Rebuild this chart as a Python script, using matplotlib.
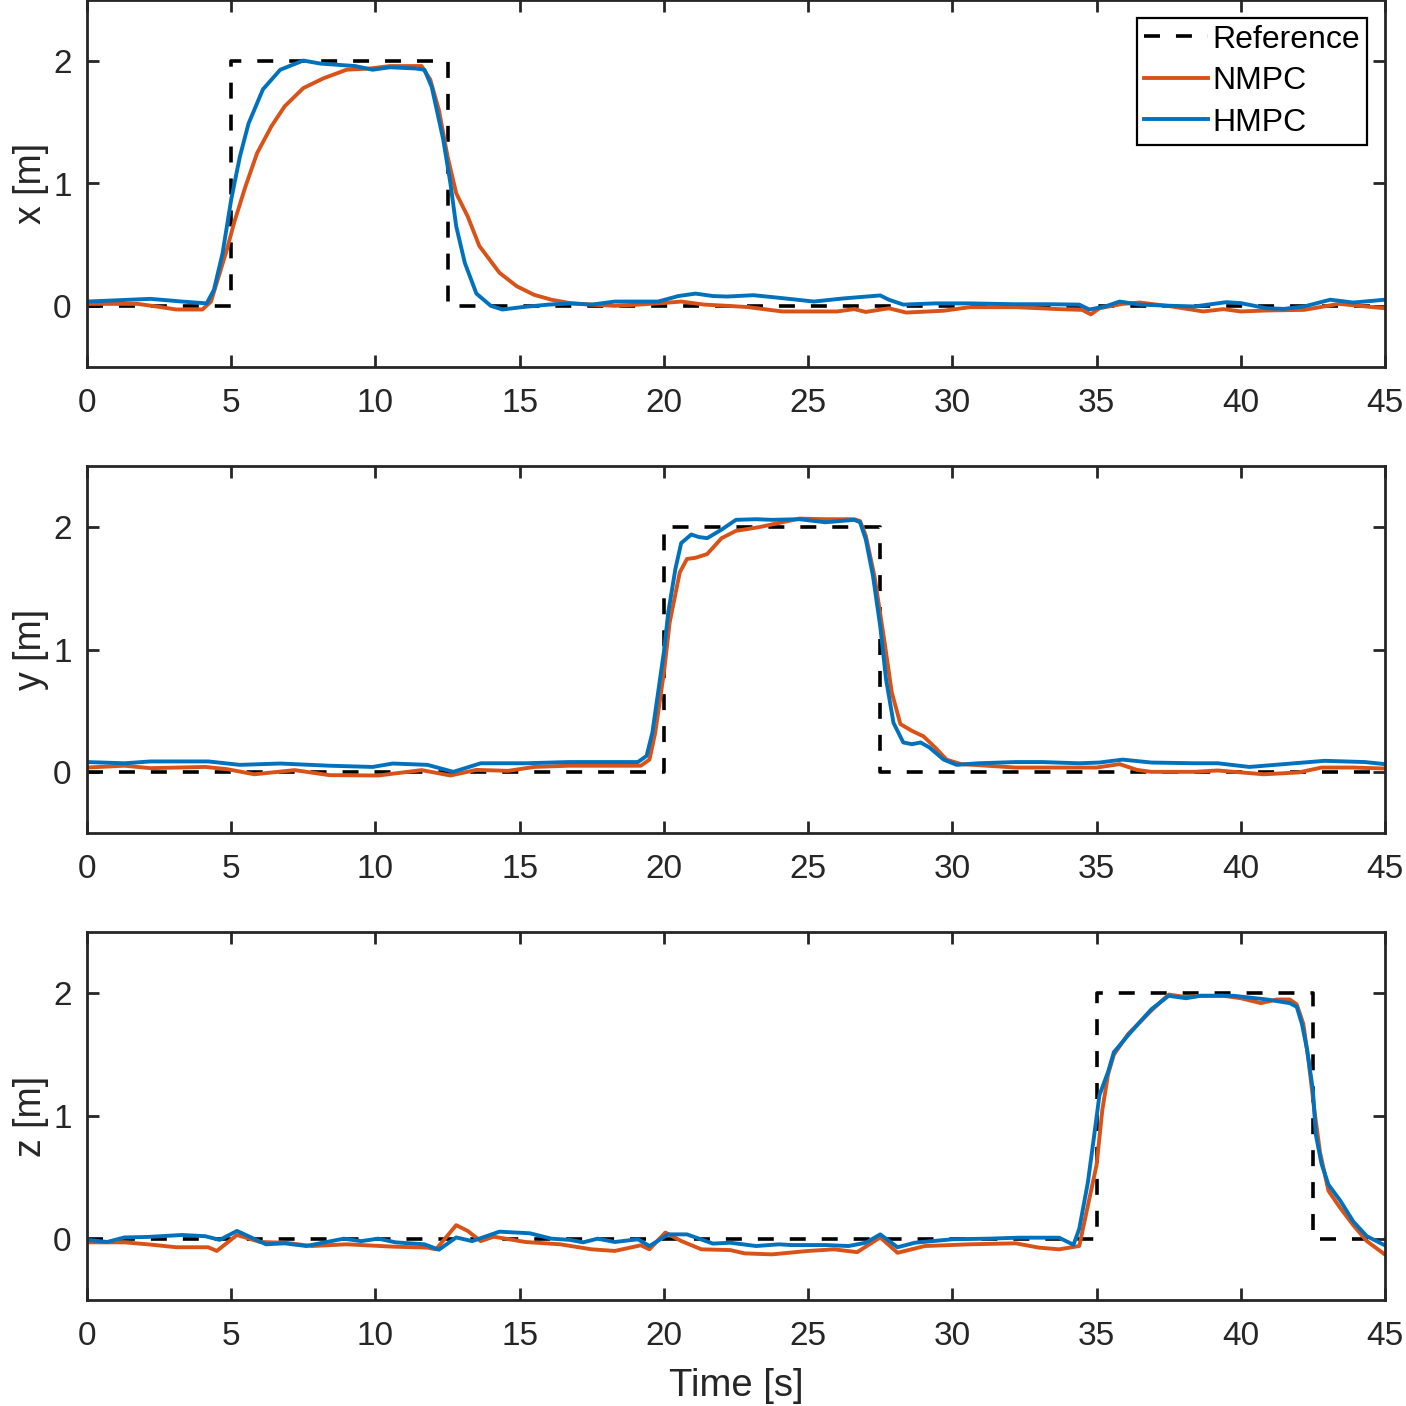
import numpy as np
import matplotlib
matplotlib.use("Agg")
import matplotlib.pyplot as plt

plt.rcParams['font.family'] = ['Liberation Sans', 'DejaVu Sans']
plt.rcParams['lines.scale_dashes'] = False

# ---------------- data ----------------
# Reference steps
ref_x_t = [0, 5, 5, 12.5, 12.5, 45]
ref_x_v = [0, 0, 2, 2, 0, 0]
ref_y_t = [0, 20, 20, 27.5, 27.5, 45]
ref_y_v = [0, 0, 2, 2, 0, 0]
ref_z_t = [0, 35, 35, 42.5, 42.5, 45]
ref_z_v = [0, 0, 2, 2, 0, 0]

# x position
hmpc_x_t = [0, 2.2, 3.3, 4.15, 4.4, 4.7, 5.0, 5.3, 5.6, 6.1,
            6.7, 7.5, 8.1, 8.7, 9.3, 9.9, 10.5, 11.4, 11.7, 11.95,
            12.1, 12.35, 12.6, 12.8, 13.1, 13.5, 14.0, 14.4, 15.1, 16.0,
            16.8, 17.5, 18.3, 19.8, 20.5, 21.1, 21.7, 22.2, 23.1, 24.1,
            25.2, 26.2, 27.5, 27.8, 28.3, 29.4, 30.6, 32.2, 33.4, 34.4,
            34.75, 35.3, 35.8, 36.5, 37.6, 38.4, 39.5, 40.0, 40.9, 41.5,
            42.2, 43.1, 43.9, 45]
hmpc_x_v = [0.035, 0.057, 0.035, 0.02, 0.13, 0.43, 0.87, 1.22, 1.49, 1.77,
            1.93, 2.005, 1.98, 1.97, 1.96, 1.93, 1.95, 1.94, 1.93, 1.79,
            1.63, 1.36, 1.0, 0.65, 0.35, 0.10, 0.0, -0.03, -0.01, 0.01,
            0.02, 0.01, 0.035, 0.035, 0.08, 0.10, 0.08, 0.076, 0.087, 0.063,
            0.035, 0.06, 0.085, 0.05, 0.01, 0.02, 0.02, 0.013, 0.013, 0.01,
            -0.03, -0.005, 0.035, 0.01, 0.0, -0.005, 0.03, 0.022, -0.02, -0.025,
            -0.005, 0.05, 0.027, 0.05]
nmpc_x_t = [0, 1.75, 2.4, 3.1, 4.0, 4.3, 4.5, 4.85, 5.1, 5.5,
            5.9, 6.4, 6.85, 7.5, 8.2, 9.0, 9.8, 10.5, 11.6, 11.9,
            12.2, 12.5, 12.8, 13.2, 13.6, 14.3, 14.9, 15.5, 16.1, 16.8,
            17.5, 18.3, 19.1, 19.8, 20.6, 21.4, 22.2, 22.9, 24.1, 26.0,
            26.6, 27.0, 27.8, 28.4, 29.7, 30.6, 32.2, 33.7, 34.5, 34.8,
            35.1, 35.9, 36.5, 37.6, 38.7, 39.4, 40.0, 40.9, 42.2, 43.4,
            45]
nmpc_x_v = [0.016, 0.016, -0.005, -0.03, -0.03, 0.035, 0.19, 0.46, 0.68, 0.98,
            1.25, 1.47, 1.63, 1.78, 1.86, 1.93, 1.94, 1.96, 1.96, 1.85,
            1.6, 1.22, 0.92, 0.73, 0.49, 0.27, 0.16, 0.09, 0.05, 0.02,
            0.01, 0.0, 0.01, 0.02, 0.035, 0.01, 0.0, -0.01, -0.046, -0.046,
            -0.027, -0.05, -0.02, -0.055, -0.04, -0.011, -0.011, -0.027, -0.033, -0.07,
            -0.02, 0.016, 0.027, -0.005, -0.046, -0.027, -0.046, -0.038, -0.033, 0.016,
            -0.02]

# y position
hmpc_y_t = [0, 1.3, 2.2, 4.2, 5.3, 6.7, 8.4, 9.9, 10.6, 11.8,
            12.7, 13.65, 15.2, 16.7, 19.1, 19.4, 19.6, 19.8, 20.0, 20.15,
            20.4, 20.6, 20.95, 21.2, 21.5, 22.0, 22.5, 23.2, 23.75, 24.7,
            25.6, 26.6, 26.8, 27.0, 27.25, 27.5, 27.7, 27.96, 28.3, 28.6,
            28.9, 29.2, 29.7, 30.15, 30.9, 32.2, 33.1, 34.4, 35.1, 35.9,
            36.9, 38.4, 39.2, 40.3, 41.5, 42.9, 44.3, 45]
hmpc_y_v = [0.08, 0.07, 0.085, 0.085, 0.057, 0.068, 0.05, 0.04, 0.068, 0.057,
            0.0, 0.07, 0.07, 0.08, 0.08, 0.13, 0.32, 0.65, 0.98, 1.3,
            1.66, 1.87, 1.94, 1.92, 1.91, 1.98, 2.06, 2.065, 2.06, 2.065,
            2.04, 2.06, 2.04, 1.90, 1.60, 1.19, 0.76, 0.40, 0.24, 0.226,
            0.24, 0.2, 0.10, 0.057, 0.07, 0.08, 0.08, 0.07, 0.076, 0.10,
            0.076, 0.07, 0.07, 0.04, 0.063, 0.09, 0.08, 0.063]
nmpc_y_t = [0, 1.3, 2.2, 4.1, 4.85, 5.8, 7.2, 8.4, 10.1, 11.6,
            12.6, 13.5, 14.6, 15.5, 16.7, 19.2, 19.5, 19.7, 20.0, 20.2,
            20.55, 20.8, 21.1, 21.5, 22.0, 22.5, 23.3, 24.1, 24.7, 25.6,
            26.6, 26.8, 27.0, 27.3, 27.65, 27.9, 28.2, 28.6, 29.0, 29.4,
            29.8, 30.3, 31.2, 32.2, 33.7, 35.0, 35.8, 36.4, 36.9, 38.4,
            39.2, 40.8, 42.0, 42.8, 43.9, 45]
nmpc_y_v = [0.035, 0.05, 0.03, 0.04, 0.022, -0.02, 0.014, -0.027, -0.03, 0.014,
            -0.03, 0.016, 0.008, 0.04, 0.05, 0.05, 0.10, 0.32, 0.81, 1.22,
            1.63, 1.74, 1.75, 1.78, 1.91, 1.97, 2.0, 2.04, 2.07, 2.065,
            2.065, 2.05, 1.93, 1.6, 1.06, 0.65, 0.39, 0.335, 0.29, 0.2,
            0.10, 0.063, 0.05, 0.035, 0.035, 0.035, 0.063, 0.016, 0.0, 0.0,
            0.011, -0.02, -0.005, 0.035, 0.035, 0.027]

# z position
hmpc_z_t = [0, 0.7, 1.3, 2.1, 3.3, 4.1, 4.6, 5.2, 5.6, 6.2,
            6.85, 7.6, 8.25, 8.9, 9.5, 10.1, 10.7, 11.7, 12.2, 12.8,
            13.35, 14.3, 15.35, 16.1, 16.75, 17.2, 17.7, 18.3, 19.1, 19.5,
            20.15, 20.8, 21.7, 22.3, 23.2, 24.0, 24.4, 25.6, 26.4, 27.0,
            27.5, 28.1, 28.7, 30.0, 31.25, 32.3, 33.7, 34.2, 34.4, 34.7,
            34.9, 35.1, 35.4, 35.6, 36.1, 36.4, 36.9, 37.5, 38.1, 38.6,
            39.75, 40.9, 41.7, 41.94, 42.12, 42.3, 42.5, 42.6, 42.8, 43.04,
            43.45, 43.9, 44.37, 45]
hmpc_z_v = [-0.01, -0.027, 0.01, 0.014, 0.03, 0.02, -0.01, 0.063, 0.02, -0.046,
            -0.038, -0.06, -0.03, 0.0, -0.02, 0.0, -0.03, -0.046, -0.09, 0.01,
            -0.02, 0.057, 0.044, 0.0, -0.01, -0.03, 0.0, -0.027, -0.005, -0.06,
            0.035, 0.035, -0.04, -0.033, -0.06, -0.046, -0.052, -0.052, -0.06, -0.033,
            0.035, -0.07, -0.033, -0.005, 0.0, 0.008, 0.008, -0.05, 0.08, 0.46,
            0.81, 1.17, 1.36, 1.52, 1.66, 1.74, 1.87, 1.98, 1.96, 1.98,
            1.98, 1.95, 1.92, 1.89, 1.75, 1.54, 1.21, 0.85, 0.61, 0.44,
            0.31, 0.14, 0.02, -0.055]
nmpc_z_t = [0, 1.3, 2.1, 3.1, 4.2, 4.5, 5.2, 6.0, 6.85, 7.8,
            9.0, 10.6, 11.8, 12.1, 12.8, 13.2, 13.65, 14.1, 15.2, 16.4,
            17.5, 18.3, 19.2, 19.5, 20.05, 20.6, 21.3, 22.3, 22.8, 23.75,
            25.0, 25.9, 26.7, 27.5, 28.1, 29.05, 30.6, 32.2, 33.0, 33.7,
            34.4, 34.7, 35.0, 35.2, 35.4, 35.6, 36.1, 36.4, 36.9, 37.5,
            38.1, 38.6, 39.4, 40.0, 40.7, 41.25, 41.7, 41.94, 42.17, 42.35,
            42.55, 42.75, 43.04, 43.45, 43.9, 44.37, 45]
nmpc_z_v = [-0.03, -0.03, -0.046, -0.07, -0.07, -0.1, 0.03, -0.027, -0.033, -0.06,
            -0.046, -0.065, -0.073, -0.087, 0.11, 0.063, -0.02, 0.016, -0.027, -0.046,
            -0.087, -0.1, -0.054, -0.087, 0.05, -0.019, -0.087, -0.093, -0.12, -0.128,
            -0.1, -0.087, -0.11, 0.01, -0.115, -0.06, -0.046, -0.038, -0.073, -0.087,
            -0.06, 0.27, 0.6, 1.05, 1.34, 1.5, 1.67, 1.74, 1.86, 1.99,
            1.97, 1.98, 1.98, 1.96, 1.92, 1.95, 1.95, 1.91, 1.75, 1.45,
            1.05, 0.7, 0.39, 0.25, 0.11, -0.02, -0.13]

ylabels = ['x [m]', 'y [m]', 'z [m]']
xticks = [0, 5, 10, 15, 20, 25, 30, 35, 40, 45]
yticks = [0, 1, 2]
series_names = ['Reference', 'NMPC', 'HMPC']

# ---------------- plotting ----------------
C_REF = 'black'
C_NMPC = '#D95319'
C_HMPC = '#0072BD'
AXC = '#262626'

fig = plt.figure(figsize=(14.06, 14.06), dpi=100)
W = 1406.0
L = 87 / W
R = 1385 / W
boxes = [(0, 367), (466, 833), (932, 1300)]

panels = [
    (ref_x_t, ref_x_v, nmpc_x_t, nmpc_x_v, hmpc_x_t, hmpc_x_v),
    (ref_y_t, ref_y_v, nmpc_y_t, nmpc_y_v, hmpc_y_t, hmpc_y_v),
    (ref_z_t, ref_z_v, nmpc_z_t, nmpc_z_v, hmpc_z_t, hmpc_z_v),
]

for i, (top, bot) in enumerate(boxes):
    ax = fig.add_axes([L, 1 - bot / W, R - L, (bot - top) / W])
    rt, rv, nt, nv, ht, hv = panels[i]
    ax.plot(rt, rv, color=C_REF, lw=2.6, linestyle=(0, (11.5, 11.5)),
            label=series_names[0])
    ax.plot(nt, nv, color=C_NMPC, lw=2.8, label=series_names[1],
            solid_joinstyle='round')
    ax.plot(ht, hv, color=C_HMPC, lw=2.8, label=series_names[2],
            solid_joinstyle='round')
    ax.set_xlim(0, 45)
    ax.set_ylim(-0.5, 2.5)
    ax.set_xticks(xticks)
    ax.set_yticks(yticks)
    ax.tick_params(direction='in', length=8.8, width=2.0, colors=AXC,
                   labelsize=24, top=True, right=True)
    ax.tick_params(axis='x', pad=15)
    ax.tick_params(axis='y', pad=11)
    for s in ax.spines.values():
        s.set_linewidth(2.0)
        s.set_color(AXC)
    ax.set_ylabel(ylabels[i], fontsize=27, color=AXC)
    ax.yaxis.set_label_coords(-0.029, 0.5)
    if i == 0:
        leg = ax.legend(loc='upper right', fontsize=23, frameon=True, fancybox=False,
                        edgecolor='black', borderaxespad=0.55, handlelength=2.0,
                        handletextpad=0.15, labelspacing=0.36, borderpad=0.22)
        leg.get_frame().set_linewidth(1.6)
        leg.get_frame().set_alpha(1)
    if i == 2:
        ax.set_xlabel('Time [s]', fontsize=27.5, color=AXC, labelpad=12)

fig.savefig('out.png', dpi=100)
